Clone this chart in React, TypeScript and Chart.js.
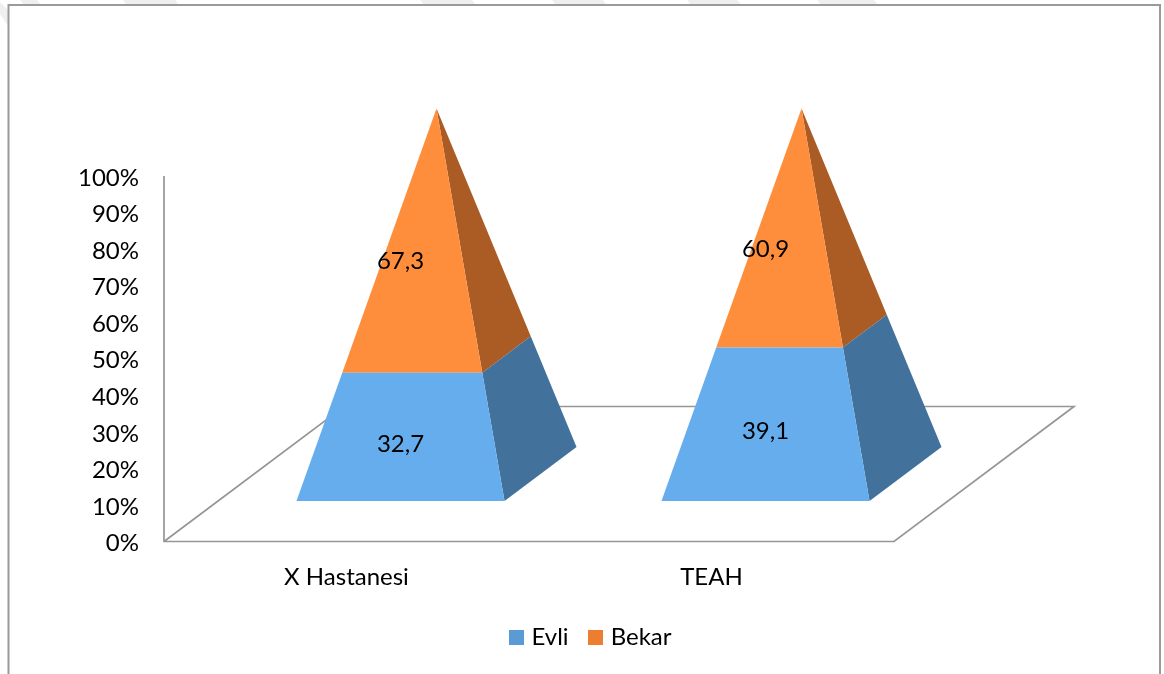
import React, { useEffect, useRef } from "react";
import { Chart, BarController, registerables } from "chart.js";

Chart.register(...registerables);

const hospitals = ["X Hastanesi", "TEAH"];
const evliValues = [32.7, 39.1];
const bekarValues = [67.3, 60.9];
const percentTicks = [0, 10, 20, 30, 40, 50, 60, 70, 80, 90, 100];

const legendColors = { evli: "#5B9BD5", bekar: "#ED7D31" };
const faceColors = { evli: "#66ADEE", bekar: "#FF8E3C" };
const sideColors = { evli: "#42729C", bekar: "#AB5B24" };

const FONT = "Lato";
const TEXT_SIZE = 24;
const AXIS_COLOR = "#969696";

// Pale diagonal bands of the page behind the chart frame, as [left, right] at the top edge.
const pageBands = [
  [20, 37],
  [123, 175],
  [420, 472],
  [552, 603],
  [687, 737],
  [817, 874],
];

// Oblique projection of the floor: screen offset of its back edge from its front edge.
const DEPTH = { x: 180, y: -135 };
// A pyramid's base sits in the middle of the floor, using 40% of its depth.
const DEPTH_CENTER = 0.5;
const DEPTH_HALF = 0.2;

type Point = [number, number];

function fillPolygon(ctx: CanvasRenderingContext2D, points: Point[], color: string) {
  ctx.beginPath();
  points.forEach(([x, y], i) => (i ? ctx.lineTo(x, y) : ctx.moveTo(x, y)));
  ctx.closePath();
  ctx.fillStyle = color;
  ctx.fill();
}

// Square legend swatch; drawn wider than its reserved slot so the text sits closer to it.
function legendSwatch(color: string) {
  const swatch = document.createElement("canvas");
  swatch.width = 15;
  swatch.height = 15;
  const ctx = swatch.getContext("2d")!;
  ctx.fillStyle = color;
  ctx.fillRect(0, 0, 15, 15);
  return swatch;
}

// Stacked bars whose elements are rendered as slices of one 3D pyramid.
class PyramidController extends BarController {
  static id = "pyramid";
  static defaults = BarController.defaults;
  static overrides = BarController.overrides;

  draw() {
    const meta = this.getMeta();
    const chart = this.chart;
    const ctx = chart.ctx;
    const yScale = chart.scales.y;
    const floorY = yScale.getPixelForValue(0);
    const span = floorY - yScale.getPixelForValue(100);
    const dataset = this.getDataset() as any;

    meta.data.forEach((bar: any, index: number) => {
      const { x, y, base, width } = bar.getProps(["x", "y", "base", "width"], true);
      const value = dataset.data[index] as number;

      const project = (u: number, v: number, py: number): Point => {
        const taper = 1 - (floorY - py) / span;
        const depth = DEPTH_CENTER + v * DEPTH_HALF * taper;
        return [x + DEPTH.x * depth + (u * width * taper) / 2, py + DEPTH.y * depth];
      };

      fillPolygon(
        ctx,
        [project(1, -1, base), project(1, 1, base), project(1, 1, y), project(1, -1, y)],
        dataset.sideColor,
      );
      fillPolygon(
        ctx,
        [project(-1, -1, base), project(1, -1, base), project(1, -1, y), project(-1, -1, y)],
        dataset.faceColor,
      );

      // Value labels line up above the centre of the pyramid's front base edge.
      const [faceX] = project(0, -1, floorY);
      const [, bottomY] = project(0, -1, base);
      const [, topY] = project(0, -1, y);
      ctx.fillStyle = "#000";
      ctx.font = `${TEXT_SIZE}px ${FONT}`;
      ctx.textAlign = "center";
      ctx.textBaseline = "middle";
      ctx.fillText(
        value.toFixed(1).replace(".", ","),
        faceX,
        (bottomY + topY) / 2 + dataset.labelDrop,
      );
    });
  }
}
Chart.register(PyramidController);

// Chart frame plus the projected floor and the vertical axis behind the pyramids.
const chartBackdrop = {
  id: "chartBackdrop",
  beforeDraw(chart: Chart) {
    const { ctx } = chart;
    pageBands.forEach(([left, right]) => {
      fillPolygon(
        ctx,
        [
          [left, 0],
          [right, 0],
          [right + 4, 5],
          [left + 4, 5],
        ],
        "#EFEFEF",
      );
    });
    fillPolygon(
      ctx,
      [
        [0, 2],
        [8, 10],
        [8, 26],
        [0, 14],
      ],
      "#EFEFEF",
    );

    // Lower the value-axis labels so they centre on their tick positions.
    chart.scales.y.getLabelItems().forEach((item: any) => {
      item.textOffset += 2;
    });
  },
  beforeDatasetsDraw(chart: Chart) {
    const { ctx, chartArea: area } = chart;
    ctx.save();
    ctx.strokeStyle = "#9A9A9A";
    ctx.lineWidth = 2;
    ctx.strokeRect(8.5, 5, 1151.5, 700);

    ctx.strokeStyle = AXIS_COLOR;
    ctx.lineWidth = 1.7;
    ctx.lineJoin = "miter";
    ctx.beginPath();
    ctx.moveTo(area.left, area.top);
    ctx.lineTo(area.left, area.bottom);
    ctx.lineTo(area.right, area.bottom);
    ctx.lineTo(area.right + DEPTH.x, area.bottom + DEPTH.y);
    ctx.lineTo(area.left + DEPTH.x, area.bottom + DEPTH.y);
    ctx.lineTo(area.left, area.bottom);
    ctx.stroke();
    ctx.restore();
  },
};

export default function App() {
  const canvasRef = useRef<HTMLCanvasElement>(null);

  useEffect(() => {
    const chart = new Chart(canvasRef.current!, {
      type: "pyramid" as any,
      data: {
        labels: hospitals,
        datasets: [
          {
            label: "Evli",
            data: evliValues,
            backgroundColor: legendColors.evli,
            faceColor: faceColors.evli,
            sideColor: sideColors.evli,
            labelDrop: 7,
            clip: false,
          },
          {
            label: "Bekar",
            data: bekarValues,
            backgroundColor: legendColors.bekar,
            faceColor: faceColors.bekar,
            sideColor: sideColors.bekar,
            labelDrop: 21,
            clip: false,
          },
        ] as any,
      },
      options: {
        animation: false,
        responsive: false,
        barPercentage: 1,
        categoryPercentage: 0.57,
        layout: { padding: { left: 20, right: 0, top: 176, bottom: 15 } },
        plugins: {
          title: { display: false },
          tooltip: { enabled: false },
          legend: {
            position: "bottom",
            labels: {
              boxWidth: 15,
              boxHeight: 15,
              padding: 23,
              color: "#000",
              font: { family: FONT, size: TEXT_SIZE },
              usePointStyle: true,
              pointStyleWidth: 7,
              generateLabels(chart: Chart) {
                return Chart.defaults.plugins.legend.labels
                  .generateLabels(chart)
                  .map((item: any) => ({
                    ...item,
                    pointStyle: legendSwatch(item.fillStyle),
                  }));
              },
            },
          },
        },
        scales: {
          x: {
            type: "category",
            stacked: true,
            offset: true,
            grid: { display: false },
            border: { display: false },
            ticks: { color: "#000", padding: 13, font: { family: FONT, size: TEXT_SIZE } },
            afterFit(scale: any) {
              scale.height = 60.5;
            },
          },
          y: {
            type: "linear",
            stacked: true,
            min: 0,
            max: 100,
            afterBuildTicks(scale: any) {
              scale.ticks = percentTicks.map((value) => ({ value }));
            },
            grid: { display: false },
            border: { display: false },
            ticks: {
              color: "#000",
              padding: 17,
              font: { family: FONT, size: TEXT_SIZE },
              callback: (value: any) => `${value}%`,
            },
            afterFit(scale: any) {
              scale.width = 144;
            },
          },
          // Empty axis that reserves the room the floor's depth takes up on the right.
          depthGutter: {
            type: "linear",
            position: "right",
            grid: { display: false },
            border: { display: false },
            ticks: { display: false },
            afterFit(scale: any) {
              scale.width = 270;
            },
          },
        },
      } as any,
      plugins: [chartBackdrop],
    });
    return () => chart.destroy();
  }, []);

  return (
    <canvas
      ref={canvasRef}
      width={1164}
      height={674}
      style={{ position: "absolute", left: 0, top: 0, display: "block", background: "#fff" }}
    />
  );
}
